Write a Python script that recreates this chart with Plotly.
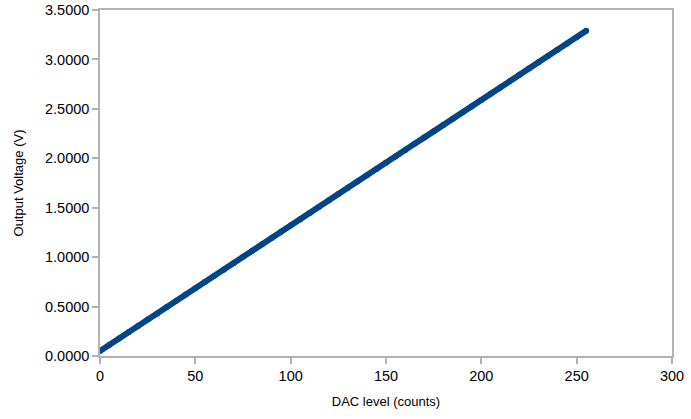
import plotly.graph_objects as go

dac_counts = [0, 5, 10, 15, 20, 25, 30, 35, 40, 45, 50, 55, 60, 65, 70, 75, 80, 85, 90, 95,
              100, 105, 110, 115, 120, 125, 130, 135, 140, 145, 150, 155, 160, 165, 170, 175,
              180, 185, 190, 195, 200, 205, 210, 215, 220, 225, 230, 235, 240, 245, 250, 255]
output_voltage = [0.050, 0.114, 0.177, 0.241, 0.304, 0.368, 0.431, 0.495, 0.558, 0.622,
                  0.685, 0.749, 0.812, 0.876, 0.939, 1.003, 1.066, 1.130, 1.193, 1.257,
                  1.320, 1.384, 1.447, 1.511, 1.574, 1.638, 1.701, 1.765, 1.828, 1.892,
                  1.955, 2.019, 2.082, 2.146, 2.209, 2.273, 2.336, 2.400, 2.463, 2.527,
                  2.590, 2.654, 2.717, 2.781, 2.844, 2.908, 2.971, 3.035, 3.098, 3.162,
                  3.225, 3.289]

x_ticks = [0, 50, 100, 150, 200, 250, 300]
y_ticks = [0, 0.5, 1, 1.5, 2, 2.5, 3, 3.5]
x_title = "DAC level (counts)"
y_title = "Output Voltage (V)"

FONT = "Liberation Sans, Arial, sans-serif"

fig = go.Figure()
fig.add_trace(go.Scatter(
    x=dac_counts, y=output_voltage, mode="lines+markers",
    line=dict(color="#004586", width=6),
    marker=dict(color="#004586", size=6),
    showlegend=False,
))

axis_common = dict(
    showgrid=False, zeroline=False, showline=True, linecolor="#b3b3b3", linewidth=1.5,
    mirror=True, ticks="outside", ticklen=6, tickcolor="#b3b3b3", tickwidth=1.5,
    tickfont=dict(family=FONT, size=14.5, color="#000000"),
    automargin=False,
)

fig.update_layout(
    width=691, height=419,
    margin=dict(l=100, r=19, t=10, b=63),
    paper_bgcolor="white", plot_bgcolor="white",
    font=dict(family=FONT, color="#000000"),
    xaxis=dict(range=[0, 300], tickvals=x_ticks,
               title=dict(text=x_title, font=dict(size=13), standoff=14), **axis_common),
    yaxis=dict(range=[0, 3.5], tickvals=y_ticks, tickformat=".4f",
               title=dict(text=y_title, font=dict(size=13), standoff=18), **axis_common),
)

fig.write_html("out.html",
               config={"displayModeBar": False},
               post_script="document.body.style.margin='0';document.body.style.overflow='hidden';")
